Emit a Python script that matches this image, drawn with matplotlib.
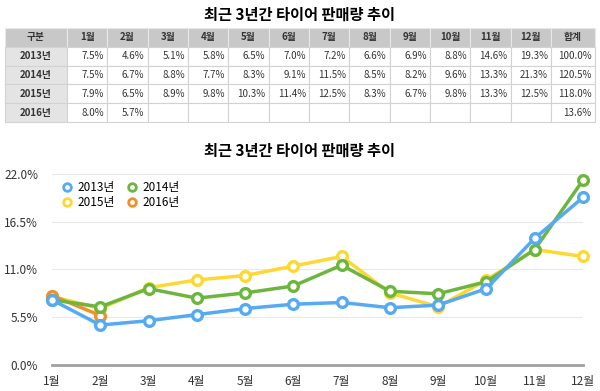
import numpy as np
import matplotlib.pyplot as plt
from matplotlib.lines import Line2D

plt.rcParams['font.family'] = ['Noto Sans CJK KR', 'DejaVu Sans']

title = "최근 3년간 타이어 판매량 추이"
months = ["1월", "2월", "3월", "4월", "5월", "6월", "7월", "8월", "9월", "10월", "11월", "12월"]
years = ["2013년", "2014년", "2015년", "2016년"]

v2013 = [7.5, 4.6, 5.1, 5.8, 6.5, 7.0, 7.2, 6.6, 6.9, 8.8, 14.6, 19.3]
v2014 = [7.5, 6.7, 8.8, 7.7, 8.3, 9.1, 11.5, 8.5, 8.2, 9.6, 13.3, 21.3]
v2015 = [7.9, 6.5, 8.9, 9.8, 10.3, 11.4, 12.5, 8.3, 6.7, 9.8, 13.3, 12.5]
v2016 = [8.0, 5.7]
totals = [100.0, 120.5, 118.0, 13.6]

yticks = [0.0, 5.5, 11.0, 16.5, 22.0]

colors = {"2013년": "#55aaf2", "2014년": "#6cb63e", "2015년": "#fdd835", "2016년": "#f0902c"}
series = {"2013년": v2013, "2014년": v2014, "2015년": v2015, "2016년": v2016}

fig = plt.figure(figsize=(6.0, 3.91), dpi=100)

# ---- top table ----
fig.text(0.5, 1 - 15 / 391, title, ha='center', va='center', fontsize=11, fontweight='bold')

tax = fig.add_axes([5 / 600, 1 - 122 / 391, 590 / 600, 94 / 391])
tax.axis('off')
header = ["구분"] + months + ["합계"]
rows = []
for y, tot in zip(years, totals):
    vals = series[y]
    cells = [y] + [f"{v:.1f}%" for v in vals] + [""] * (12 - len(vals)) + [f"{tot:.1f}%"]
    rows.append(cells)
widths = [62] + [40.3] * 12 + [44]
tbl = tax.table(cellText=rows, colLabels=header, colWidths=[w / sum(widths) for w in widths],
                bbox=[0, 0, 1, 1])
tbl.auto_set_font_size(False)
for (r, c), cell in tbl.get_celld().items():
    cell.set_edgecolor("#d2d2d2")
    cell.set_linewidth(0.8)
    txt = cell.get_text()
    txt.set_fontsize(7)
    txt.set_color("#333333")
    if r == 0:
        cell.set_facecolor("#c8c8c8")
        cell.set_edgecolor("#e8e8e8")
        txt.set_fontweight('bold')
        txt.set_ha('center')
    elif c == 0:
        cell.set_facecolor("#e4e4e4")
        txt.set_fontweight('bold')
        txt.set_ha('center')
    else:
        cell.set_facecolor("white")
        txt.set_ha('right')
        cell.PAD = 0.08

# ---- line chart ----
fig.text(0.5, 1 - 151 / 391, title, ha='center', va='center', fontsize=11, fontweight='bold')
ax = fig.add_axes([52 / 600, 1 - 365 / 391, 531 / 600, 191 / 391])
x = np.arange(len(months))
zorders = {"2013년": 6, "2014년": 5, "2015년": 3, "2016년": 4}
for y in years:
    vals = series[y]
    ax.plot(x[:len(vals)], vals, color=colors[y], lw=2.5, marker='o', markersize=7,
            markerfacecolor='white', markeredgewidth=2.4, zorder=zorders[y], clip_on=False)

ax.set_xlim(0, 11)
ax.set_ylim(0, 22)
ax.set_xticks(x)
ax.set_xticklabels(months)
ax.set_yticks(yticks)
ax.set_yticklabels([f"{t:.1f}%" for t in yticks])
ax.tick_params(length=0, labelsize=8.5, colors="#333333")
ax.tick_params(axis='x', pad=7)
ax.tick_params(axis='y', pad=10)
for s in ['top', 'right', 'left']:
    ax.spines[s].set_visible(False)
ax.spines['bottom'].set_color("#a0a0a0")
ax.spines['bottom'].set_linewidth(2)
ax.grid(axis='y', color="#e8e8e8", lw=0.8)
ax.set_axisbelow(True)

order = ["2013년", "2015년", "2014년", "2016년"]
handles = [Line2D([], [], ls='none', marker='o', markersize=5.5, markerfacecolor='white',
                  markeredgecolor=colors[y], markeredgewidth=2) for y in order]
ax.legend(handles, order, ncol=2, loc='upper left', bbox_to_anchor=(-0.005, 1.02), frameon=False,
          fontsize=8.5, handletextpad=0.3, columnspacing=0.8, labelspacing=0.2, handlelength=1.2)

fig.savefig("out.png", dpi=100)
